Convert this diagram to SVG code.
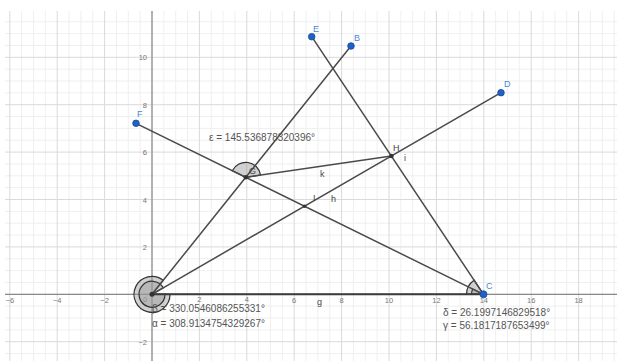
<svg xmlns="http://www.w3.org/2000/svg" width="617" height="361" viewBox="0 0 617 361">
  <style>
    .ax { font-family: "Liberation Sans", Arial, sans-serif; font-size: 7.5px; fill: #777; }
    .axx { text-anchor: middle; }
    .axy { text-anchor: end; }
    .seg { stroke: #4a4a4a; stroke-width: 1.5; fill: none; stroke-linecap: round; }
    .axis { stroke: #8a8a8a; stroke-width: 1.2; fill: none; }
    .ang { fill: #9a9a9a; fill-opacity: 0.45; stroke: #333; stroke-width: 1.2; }
    .pt { fill: #1f62c4; stroke: #14479a; stroke-width: 0.8; }
    .dpt { fill: #333; }
    .bl { font-family: "Liberation Sans", Arial, sans-serif; font-size: 9px; fill: #4a86d8; }
    .dl { font-family: "Liberation Sans", Arial, sans-serif; font-size: 9px; fill: #444; }
    .at { font-family: "Liberation Sans", Arial, sans-serif; font-size: 10px; fill: #555; }
  </style>
  <defs>
    <pattern id="grid" x="151.5" y="293.8" width="47.4" height="47.4" patternUnits="userSpaceOnUse">
      <rect x="11.85" y="0" width="1" height="47.4" fill="#efefef"/>
      <rect x="23.7" y="0" width="1" height="47.4" fill="#efefef"/>
      <rect x="35.55" y="0" width="1" height="47.4" fill="#efefef"/>
      <rect x="0" y="11.85" width="47.4" height="1" fill="#efefef"/>
      <rect x="0" y="23.7" width="47.4" height="1" fill="#efefef"/>
      <rect x="0" y="35.55" width="47.4" height="1" fill="#efefef"/>
      <rect x="0" y="0" width="1" height="47.4" fill="#d9d9d9"/>
      <rect x="0" y="0" width="47.4" height="1" fill="#d9d9d9"/>
    </pattern>
  </defs>
  <rect x="0" y="0" width="617" height="361" fill="#ffffff"/>
  <g id="grid-area">
    <rect x="5" y="11" width="612" height="350" fill="url(#grid)"/>
    <line class="axis" x1="5" y1="294.3" x2="617" y2="294.3"/>
    <line class="axis" x1="152" y1="11" x2="152" y2="361"/>
  </g>
  <g id="axis-labels">
    <text class="ax axx" x="9.8" y="302.5">−6</text>
    <text class="ax axx" x="57.2" y="302.5">−4</text>
    <text class="ax axx" x="104.6" y="302.5">−2</text>
    <text class="ax axx" x="145" y="302">0</text>
    <text class="ax axx" x="199.4" y="302">2</text>
    <text class="ax axx" x="246.8" y="302">4</text>
    <text class="ax axx" x="294.2" y="302.5">6</text>
    <text class="ax axx" x="341.6" y="302.5">8</text>
    <text class="ax axx" x="389" y="302.5">10</text>
    <text class="ax axx" x="436.4" y="302.5">12</text>
    <text class="ax axx" x="483.8" y="302.5">14</text>
    <text class="ax axx" x="531.2" y="302.5">16</text>
    <text class="ax axx" x="578.6" y="302.5">18</text>
    <text class="ax axy" x="147" y="60">10</text>
    <text class="ax axy" x="147" y="107.5">8</text>
    <text class="ax axy" x="147" y="155">6</text>
    <text class="ax axy" x="147" y="202.5">4</text>
    <text class="ax axy" x="147" y="250">2</text>
    <text class="ax axy" x="147" y="345">−2</text>
  </g>
  <g id="angles">
    <path id="angle-alpha" class="ang" d="M152,294.3 L163.2,280.3 A18,18 0 1 0 170,294.3 Z"/>
    <path id="angle-beta" class="ang" d="M152,294.3 L163.3,287.8 A13,13 0 1 0 165,294.3 Z"/>
    <path id="angle-epsilon" class="ang" d="M245.8,177.3 L260.6,175.1 A15,15 0 0 0 232.3,170.7 Z"/>
    <path id="angle-gamma" class="ang" d="M483.5,294.3 L466.5,294.3 A17,17 0 0 1 474.1,280.2 Z"/>
    <path id="angle-delta" class="ang" d="M483.5,294.3 L471.5,294.3 A12,12 0 0 1 472.7,289 Z"/>
  </g>
  <g id="connectors">
    <line id="g" x1="152" y1="294.3" x2="483.5" y2="294.3" stroke="#3a3a3a" stroke-width="2"/>
    <line id="seg-AB" class="seg" x1="152" y1="294.3" x2="351" y2="46"/>
    <line id="seg-AD" class="seg" x1="152" y1="294.3" x2="501" y2="92.7"/>
    <line id="seg-EC" class="seg" x1="311.7" y1="36.7" x2="483.5" y2="294.3"/>
    <line id="seg-FC" class="seg" x1="136" y1="123.3" x2="483.5" y2="294.3"/>
    <line id="k" class="seg" x1="245.8" y1="177.3" x2="391.4" y2="156"/>
  </g>
  <g id="A"><circle class="dpt" cx="152" cy="294.3" r="2.5"/></g>
  <g id="B"><circle class="pt" cx="351" cy="46" r="3.3"/><text class="bl" x="354" y="41">B</text></g>
  <g id="C"><circle class="pt" cx="483.5" cy="294.3" r="3.5"/><text class="bl" x="486" y="289">C</text></g>
  <g id="D"><circle class="pt" cx="501" cy="92.7" r="3.3"/><text class="bl" x="504" y="87">D</text></g>
  <g id="E"><circle class="pt" cx="311.7" cy="36.7" r="3.3"/><text class="bl" x="313" y="32">E</text></g>
  <g id="F"><circle class="pt" cx="136" cy="123.3" r="3.3"/><text class="bl" x="137" y="117">F</text></g>
  <g id="G"><circle class="dpt" cx="245.8" cy="177.3" r="2.3"/><text class="dl" x="249" y="174" font-size="8" fill="#888">G</text></g>
  <g id="H"><circle class="dpt" cx="391.4" cy="156" r="2.3"/><text class="dl" x="393" y="151">H</text></g>
  <g id="I"><circle class="dpt" cx="304.5" cy="206.2" r="1.8"/><text class="dl" x="313" y="201">I</text></g>
  <g id="line-labels">
    <text class="dl" x="404" y="161">i</text>
    <text class="dl" x="320" y="177">k</text>
    <text class="dl" x="331" y="202">h</text>
    <text class="dl" x="317" y="305">g</text>
  </g>
  <g id="angle-labels">
    <text class="at" x="209" y="141">ε = 145.536878320396°</text>
    <text class="at" x="152" y="311.5">β = 330.0546086255331°</text>
    <text class="at" x="152" y="327">α = 308.9134754329267°</text>
    <text class="at" x="443" y="316">δ = 26.1997146829518°</text>
    <text class="at" x="443" y="329">γ = 56.1817187653499°</text>
  </g>
</svg>
